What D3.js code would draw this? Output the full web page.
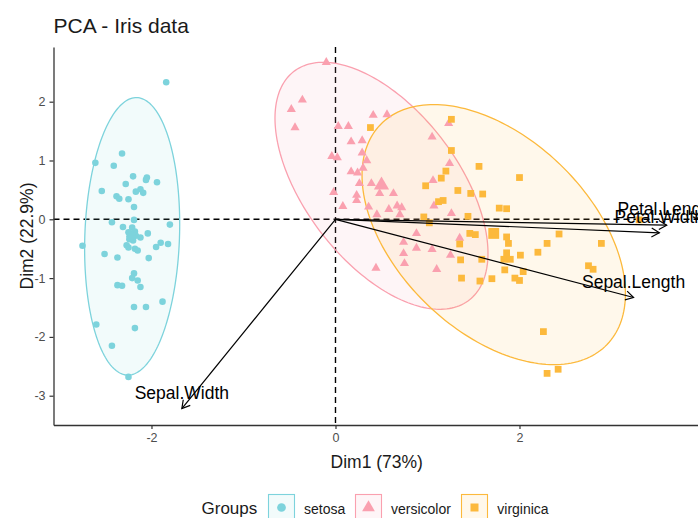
<!DOCTYPE html>
<html>
<head>
<meta charset="utf-8">
<script src="https://cdn.jsdelivr.net/npm/d3@7"></script>
<style>
  body { margin: 0; background: #fff; }
  svg { display: block; font-family: "Liberation Sans", Arial, Helvetica, sans-serif; }
</style>
</head>
<body>
<svg id="chart" width="698" height="518"></svg>
<script>
// ---- data -------------------------------------------------------------
const groups = ["setosa", "versicolor", "virginica"];
const groupColors = ["#7dd3dc", "#faa0af", "#fcb93c"];
const groupShapes = ["circle", "triangle", "square"];

// individual scores on (Dim1, Dim2)
const setosaScores = [
  [-1.84,2.33],[-2.32,1.12],[-2.61,0.96],[-2.41,0.91],[-2.20,0.73],[-2.05,0.71],[-2.06,0.67],
  [-1.94,0.63],[-2.28,0.60],[-2.54,0.48],[-2.17,0.47],[-2.12,0.51],[-2.09,0.45],[-2.38,0.39],
  [-2.35,0.35],[-2.25,0.34],[-2.19,0.21],[-2.19,-0.01],[-2.43,-0.05],[-1.80,-0.09],[-2.31,-0.13],
  [-2.21,-0.14],[-2.23,-0.24],[-2.25,-0.22],[-2.18,-0.21],[-2.17,-0.28],[-2.12,-0.31],[-2.04,-0.24],
  [-2.24,-0.34],[-2.20,-0.36],[-2.75,-0.45],[-2.27,-0.44],[-2.25,-0.48],[-2.18,-0.50],[-2.15,-0.53],
  [-1.95,-0.47],[-1.90,-0.40],[-1.82,-0.42],[-2.51,-0.59],[-2.37,-0.65],[-2.03,-0.66],[-2.19,-0.92],
  [-2.21,-1.00],[-2.15,-1.04],[-2.37,-1.12],[-2.32,-1.13],[-2.12,-1.15],[-2.19,-1.49],[-2.06,-1.49],
  [-1.88,-1.40],[-2.60,-1.79],[-2.18,-1.85],[-2.43,-2.15],[-2.25,-2.68]
];
const versicolorScores = [
  [-0.10,2.67],[-0.36,2.03],[-0.48,1.87],[-0.44,1.56],[0.03,1.58],[0.14,1.58],[0.41,1.77],
  [0.56,1.78],[0.17,1.32],[0.29,1.34],[1.05,1.40],[1.23,1.63],[0.29,1.13],[-0.04,1.07],
  [0.02,1.05],[0.34,1.00],[1.24,0.95],[0.17,0.81],[0.24,0.79],[0.30,0.87],[1.06,0.66],
  [0.26,0.61],[0.39,0.61],[0.48,0.44],[0.63,0.44],[-0.02,0.46],[0.23,0.41],[0.23,0.32],
  [0.08,0.22],[0.36,0.21],[0.58,0.17],[0.67,0.23],[0.72,0.20],[1.07,0.23],[0.70,0.08],
  [0.45,0.08],[1.26,0.10],[0.88,-0.24],[1.35,-0.32],[0.74,-0.39],[0.74,-0.58],[0.88,-0.49],
  [1.05,-0.51],[1.25,-0.61],[0.75,-0.75],[0.44,-0.83],[1.10,-0.85]
];
const virginicaScores = [
  [1.26,1.70],[0.38,1.56],[1.26,1.17],[1.56,0.90],[1.20,0.82],[1.15,0.70],[2.00,0.71],
  [0.98,0.57],[1.33,0.49],[1.47,0.44],[1.60,0.43],[1.17,0.32],[1.12,0.30],[1.78,0.19],
  [1.86,0.18],[0.96,0.04],[1.44,0.05],[3.30,-0.01],[1.02,-0.06],[1.46,-0.24],[1.52,-0.26],
  [1.86,-0.30],[1.88,-0.41],[1.35,-0.42],[2.43,-0.25],[2.30,-0.41],[2.89,-0.41],[1.86,-0.57],
  [2.01,-0.61],[2.20,-0.56],[1.83,-0.68],[1.90,-0.68],[1.36,-0.69],[1.59,-0.68],[2.75,-0.79],
  [2.80,-0.85],[1.84,-0.86],[2.04,-0.89],[1.95,-1.00],[2.00,-1.04],[1.70,-1.01],[1.57,-1.05],
  [1.37,-1.00],[2.26,-1.91],[2.30,-2.62],[2.42,-2.55]
];
const groupScores = [setosaScores, versicolorScores, virginicaScores];

// group mean points
const groupMeans = [[-2.22,-0.29],[0.50,0.58],[1.72,-0.24]];

// concentration ellipses: centre and shape matrix [xx, xy, yy]
const ellipseCenters = [[-2.21,-0.29],[0.50,0.57],[1.72,-0.26]];
const ellipseShapes = [[0.267,0.108,5.565],[1.340,-1.329,4.411],[2.049,-1.442,4.888]];

// variable loadings (arrows)
const variableNames = ["Sepal.Length", "Sepal.Width", "Petal.Length", "Petal.Width"];
const variableCoords = [[3.24,-1.33],[-1.67,-3.22],[3.60,-0.10],[3.52,-0.23]];

const xTicks = [-2, 0, 2];
const yTicks = [-3, -2, -1, 0, 1, 2];

const chartTitle = "PCA - Iris data";
const xTitle = "Dim1 (73%)";
const yTitle = "Dim2 (22.9%)";
const legendTitle = "Groups";

// ---- layout -------------------------------------------------------------
const svg = d3.select("#chart");
const panel = { left: 53.5, right: 700, top: 47, bottom: 425 };

const x = d3.scaleLinear().domain([-3.065, 3.962]).range([panel.left, panel.right]);
const y = d3.scaleLinear().domain([-3.498, 2.930]).range([panel.bottom, panel.top]);

const textColor = "#1a1a1a";

// title
svg.append("text")
  .attr("x", panel.left).attr("y", 33)
  .attr("font-size", 21).attr("fill", textColor)
  .text(chartTitle);

// reference lines through the origin
const refG = svg.append("g").attr("stroke", "#000").attr("stroke-width", 1.4)
  .attr("stroke-dasharray", "6,4").attr("fill", "none");
refG.append("line").attr("x1", panel.left).attr("x2", panel.right)
  .attr("y1", y(0)).attr("y2", y(0));
refG.append("line").attr("x1", x(0)).attr("x2", x(0))
  .attr("y1", panel.top).attr("y2", panel.bottom);

// ellipses
function ellipsePoints(center, shape) {
  const [sxx, sxy, syy] = shape;
  const l11 = Math.sqrt(sxx);
  const l21 = sxy / l11;
  const l22 = Math.sqrt(syy - l21 * l21);
  return d3.range(0, 201).map(i => {
    const t = i / 200 * 2 * Math.PI;
    const c = Math.cos(t), s = Math.sin(t);
    return [center[0] + l11 * c, center[1] + l21 * c + l22 * s];
  });
}
const ellipseLine = d3.line().x(d => x(d[0])).y(d => y(d[1]));
const ellG = svg.append("g");
groups.forEach((g, i) => {
  ellG.append("path")
    .attr("d", ellipseLine(ellipsePoints(ellipseCenters[i], ellipseShapes[i])) + "Z")
    .attr("fill", groupColors[i]).attr("fill-opacity", 0.1)
    .attr("stroke", groupColors[i]).attr("stroke-width", 1.3);
});

// points
function symbolPath(shape, big) {
  if (shape === "circle") return d3.symbol(d3.symbolCircle, big ? 80 : 34)();
  if (shape === "triangle") return d3.symbol(d3.symbolTriangle, big ? 100 : 36)();
  return d3.symbol(d3.symbolSquare, big ? 118 : 46)();
}
const ptsG = svg.append("g");
groups.forEach((g, i) => {
  ptsG.append("g").selectAll("path")
    .data(groupScores[i])
    .join("path")
    .attr("d", symbolPath(groupShapes[i], false))
    .attr("transform", d => `translate(${x(d[0])},${y(d[1])})`)
    .attr("fill", groupColors[i]);
});
ptsG.append("g").selectAll("path")
  .data(groupMeans)
  .join("path")
  .attr("d", (d, i) => symbolPath(groupShapes[i], true))
  .attr("transform", d => `translate(${x(d[0])},${y(d[1])})`)
  .attr("fill", (d, i) => groupColors[i]);

// variable arrows
const arrG = svg.append("g").attr("stroke", "#000").attr("stroke-width", 1.2).attr("fill", "none");
const headLen = 9, headAng = Math.PI / 6;
variableCoords.forEach((v, i) => {
  const ox = x(0), oy = y(0), tx = x(v[0]), ty = y(v[1]);
  arrG.append("line").attr("x1", ox).attr("y1", oy).attr("x2", tx).attr("y2", ty);
  const a = Math.atan2(ty - oy, tx - ox);
  const p1 = [tx - headLen * Math.cos(a - headAng), ty - headLen * Math.sin(a - headAng)];
  const p2 = [tx - headLen * Math.cos(a + headAng), ty - headLen * Math.sin(a + headAng)];
  arrG.append("path").attr("d", `M${p1[0]},${p1[1]}L${tx},${ty}L${p2[0]},${p2[1]}`);
});
svg.append("g").selectAll("text")
  .data(variableCoords)
  .join("text")
  .attr("x", d => x(d[0]))
  .attr("y", d => y(d[1]) - 10)
  .attr("text-anchor", "middle")
  .attr("font-size", 17.5)
  .attr("fill", "#000")
  .text((d, i) => variableNames[i]);

// axes
const axisColor = "#333";
const xAxis = svg.append("g").attr("transform", `translate(0,${panel.bottom})`)
  .call(d3.axisBottom(x).tickValues(xTicks).tickFormat(d3.format("d")).tickSizeInner(4).tickSizeOuter(0).tickPadding(4));
const yAxis = svg.append("g").attr("transform", `translate(${panel.left},0)`)
  .call(d3.axisLeft(y).tickValues(yTicks).tickFormat(d3.format("d")).tickSizeInner(4).tickSizeOuter(0).tickPadding(4));
[xAxis, yAxis].forEach(ax => {
  ax.select(".domain").attr("stroke", axisColor).attr("stroke-width", 1.3);
  ax.selectAll(".tick line").attr("stroke", axisColor).attr("stroke-width", 1.2);
  ax.selectAll(".tick text").attr("fill", "#4d4d4d").attr("font-size", 12.5)
    .attr("font-family", "Liberation Sans, Arial, sans-serif")
    .text(d => String(d).replace("-", "-"));
});

// axis titles
svg.append("text")
  .attr("x", (panel.left + panel.right) / 2).attr("y", 468)
  .attr("text-anchor", "middle").attr("font-size", 17.5).attr("fill", textColor)
  .text(xTitle);
svg.append("text")
  .attr("transform", `translate(33,${(panel.top + panel.bottom) / 2}) rotate(-90)`)
  .attr("text-anchor", "middle").attr("font-size", 17.5).attr("fill", textColor)
  .text(yTitle);

// legend
const legend = svg.append("g");
legend.append("text").attr("x", 201.5).attr("y", 514)
  .attr("font-size", 17).attr("fill", textColor).text(legendTitle);
const keyX = [268.5, 355.5, 461.5];
const labelX = [304, 391, 497.3];
groups.forEach((g, i) => {
  legend.append("rect")
    .attr("x", keyX[i]).attr("y", 494.5).attr("width", 26).attr("height", 26)
    .attr("fill", groupColors[i]).attr("fill-opacity", 0.1)
    .attr("stroke", groupColors[i]).attr("stroke-width", 1.1);
  legend.append("path")
    .attr("d", groupShapes[i] === "circle" ? d3.symbol(d3.symbolCircle, 60)()
         : groupShapes[i] === "triangle" ? d3.symbol(d3.symbolTriangle, 70)()
         : d3.symbol(d3.symbolSquare, 64)())
    .attr("transform", `translate(${keyX[i] + 13},${507.5})`)
    .attr("fill", groupColors[i]);
  legend.append("text").attr("x", labelX[i]).attr("y", 514)
    .attr("font-size", 14).attr("fill", textColor).text(g);
});
</script>
</body>
</html>
